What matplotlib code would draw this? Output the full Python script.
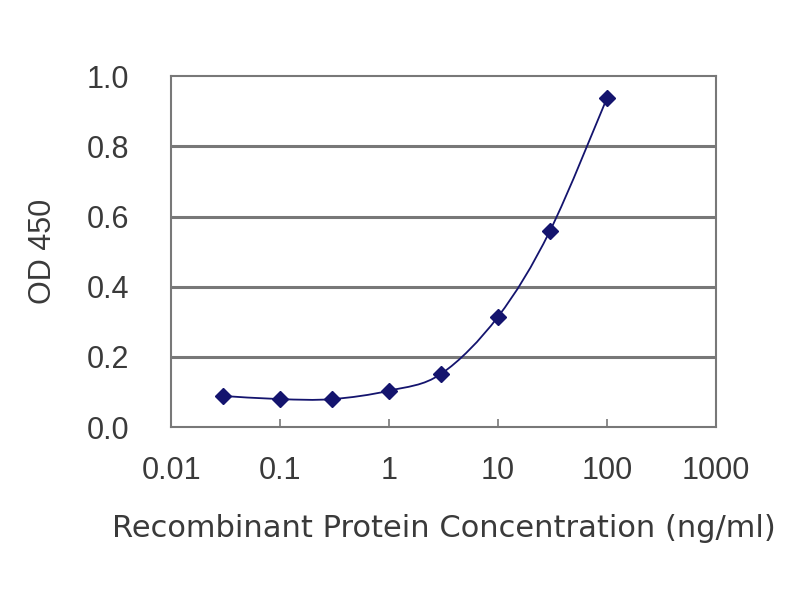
import numpy as np
import matplotlib.pyplot as plt
from matplotlib.path import Path
from matplotlib.patches import PathPatch

plt.rcParams['font.family'] = ['Liberation Sans', 'DejaVu Sans']

# concentration (ng/ml) and OD450 readings
conc = [0.03, 0.1, 0.3, 1, 3, 10, 30, 100]
od450 = [0.089, 0.080, 0.080, 0.104, 0.152, 0.315, 0.56, 0.938]

xticks = [0.01, 0.1, 1, 10, 100, 1000]
xtick_labels = ['0.01', '0.1', '1', '10', '100', '1000']
yticks = [0.0, 0.2, 0.4, 0.6, 0.8, 1.0]

navy = '#14146e'
grey = '#787878'
txt = '#3a3a3a'

fig = plt.figure(figsize=(8, 6), dpi=100)
ax = fig.add_axes([0.214, 0.288, 0.681, 0.585])

# smoothed line (bezier through the points, done in log-x space)
lx = np.log10(conc)
y = np.array(od450)
pts = np.column_stack([lx, y])
verts = [pts[0]]
codes = [Path.MOVETO]
t = 1.0 / 6
for k in range(len(pts) - 1):
    p0 = pts[k - 1] if k > 0 else pts[k]
    p1 = pts[k]
    p2 = pts[k + 1]
    p3 = pts[k + 2] if k + 2 < len(pts) else pts[k + 1]
    c1 = p1 + (p2 - p0) * t
    c2 = p2 - (p3 - p1) * t
    verts += [c1, c2, p2]
    codes += [Path.CURVE4] * 3
verts = np.array(verts)
verts[:, 0] = 10 ** verts[:, 0]
ax.add_patch(PathPatch(Path(verts, codes), fill=False, edgecolor=navy, lw=1.3, zorder=3))

ax.plot(conc, od450, linestyle='none', marker='D', ms=8, color=navy, zorder=4)

ax.set_xscale('log')
ax.set_xlim(0.01, 1000)
ax.set_ylim(0, 1.0)
ax.set_xticks(xticks)
ax.set_xticklabels(xtick_labels)
ax.minorticks_off()
ax.set_yticks(yticks)
ax.set_yticklabels(['%.1f' % v for v in yticks])

for v in yticks[1:-1]:
    ax.axhline(v, color=grey, lw=2.2, zorder=1)

for s in ax.spines.values():
    s.set_color(grey)
    s.set_linewidth(1.5)

ax.tick_params(axis='x', direction='in', length=6, width=1.2, color=grey,
               labelsize=22, pad=21, labelcolor=txt)
ax.tick_params(axis='y', length=0, labelsize=22, pad=30, labelcolor=txt)

ax.set_xlabel('Recombinant Protein Concentration (ng/ml)', fontsize=22,
              family='DejaVu Sans', color=txt, labelpad=20)
ax.set_ylabel('OD 450', fontsize=22, color=txt, labelpad=21)

fig.savefig('out.png', dpi=100)
